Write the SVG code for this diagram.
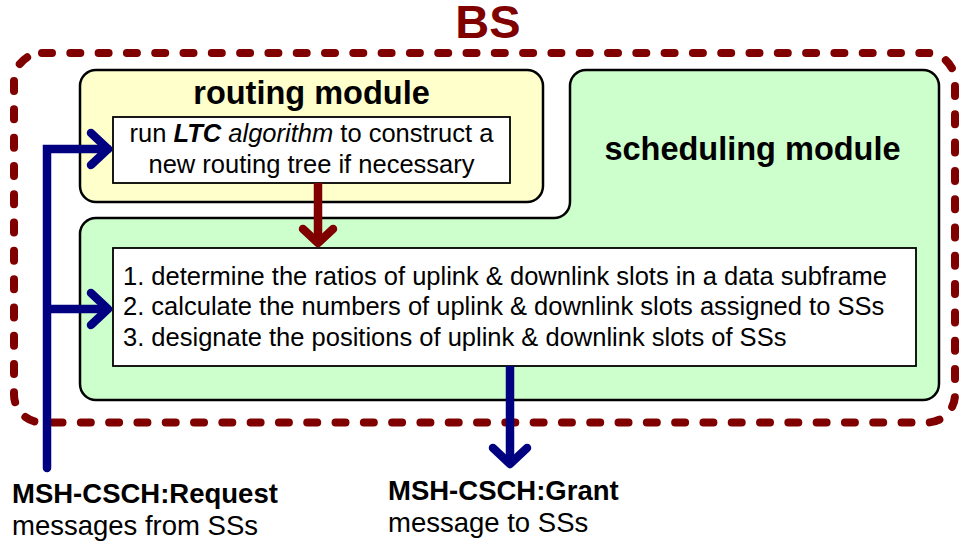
<svg xmlns="http://www.w3.org/2000/svg" width="960" height="547" viewBox="0 0 960 547">
  <style>
    text { font-family: "Liberation Sans", Arial, Helvetica, sans-serif; fill: #000; }
    .title { font-size: 32.5px; font-weight: bold; text-anchor: middle; }
    .body { font-size: 25.5px; }
    .lbl-b { font-size: 27.5px; font-weight: bold; }
    .lbl { font-size: 27.5px; }
    .module { stroke: #000; stroke-width: 2.5; }
    .box { fill: #fff; stroke: #000; stroke-width: 1.8; }
    .blue { fill: none; stroke: #000080; stroke-width: 8.5; }
    .red { fill: none; stroke: #800000; stroke-width: 8.5; }
    .head { stroke-linecap: round; stroke-linejoin: round; }
  </style>

  <!-- base station boundary -->
  <g id="bs">
    <rect x="14" y="53" width="941" height="369.5" rx="28" ry="28" fill="none" stroke="#800000" stroke-width="8" stroke-linecap="round" stroke-dasharray="10 18.3"/>
    <text x="488" y="37.5" text-anchor="middle" style="font-size:47px;font-weight:bold;fill:#800000">BS</text>
  </g>

  <!-- scheduling module (L-shaped) -->
  <g id="scheduling">
    <path class="module" fill="#CCFFCC" d="M96 218 H554 A16 16 0 0 0 570 202 V86 A16 16 0 0 1 586 70 H923 A16 16 0 0 1 939 86 V384 A16 16 0 0 1 923 400 H96 A16 16 0 0 1 80 384 V234 A16 16 0 0 1 96 218 Z"/>
    <text class="title" x="752.5" y="159.5">scheduling module</text>
    <rect class="box" x="113" y="248" width="803" height="118"/>
    <text class="body" x="123" y="285">1. determine the ratios of uplink &amp; downlink slots in a data subframe</text>
    <text class="body" x="123" y="315">2. calculate the numbers of uplink &amp; downlink slots assigned to SSs</text>
    <text class="body" x="123" y="345.5">3. designate the positions of uplink &amp; downlink slots of SSs</text>
  </g>

  <!-- routing module -->
  <g id="routing">
    <rect class="module" x="80" y="70" width="463" height="132" rx="16" ry="16" fill="#FFFFCC"/>
    <text class="title" x="311.5" y="104">routing module</text>
    <rect class="box" x="113" y="117" width="397" height="66"/>
    <text class="body" x="311.5" y="141.5" text-anchor="middle">run <tspan font-weight="bold" font-style="italic">LTC</tspan> <tspan font-style="italic">algorithm</tspan> to construct a</text>
    <text class="body" x="311.5" y="172.5" text-anchor="middle">new routing tree if necessary</text>
  </g>

  <!-- connectors -->
  <g id="connectors">
    <path class="blue" d="M47 468 V149 H108" stroke-linecap="round"/>
    <polyline class="blue head" points="91,133 108,149 91,165"/>
    <path class="blue" d="M47 309 H108"/>
    <polyline class="blue head" points="91,293 108,309 91,325"/>
    <path class="red" d="M318 183 V243"/>
    <polyline class="red head" points="303,229 318,243 333,229"/>
    <path class="blue" d="M510 366 V464"/>
    <polyline class="blue head" points="493,448 510,464 527,448"/>
  </g>

  <!-- external message labels -->
  <g id="request-label">
    <text class="lbl-b" x="12" y="503">MSH-CSCH:Request</text>
    <text class="lbl" x="12" y="535">messages from SSs</text>
  </g>
  <g id="grant-label">
    <text class="lbl-b" x="388" y="500">MSH-CSCH:Grant</text>
    <text class="lbl" x="388" y="532">message to SSs</text>
  </g>
</svg>
